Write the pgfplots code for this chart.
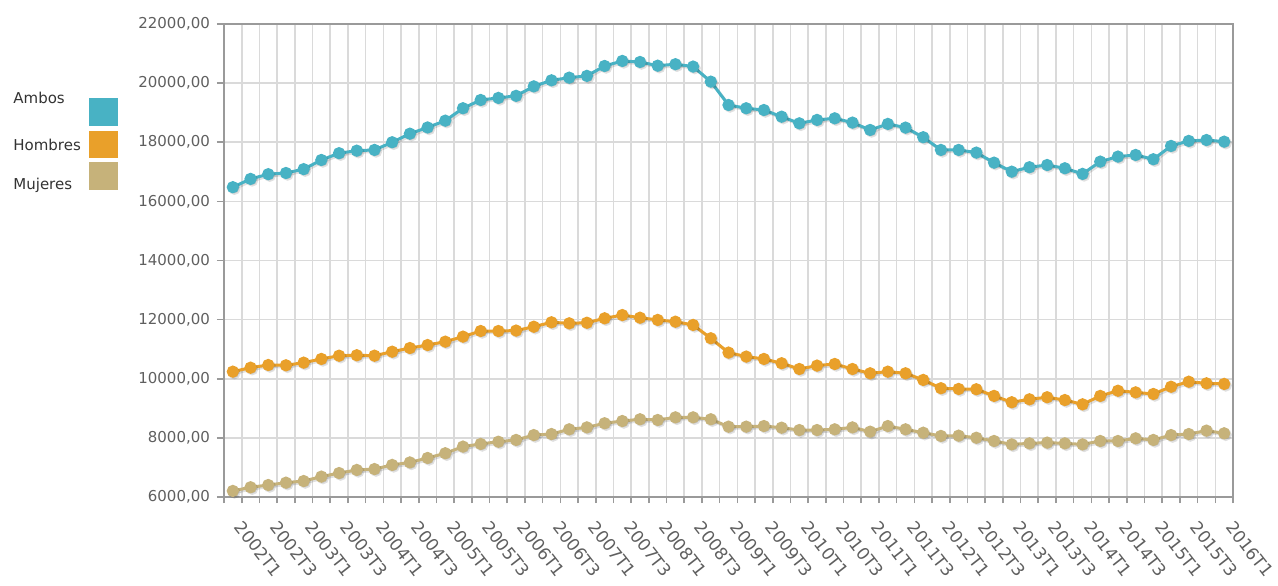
\documentclass[border=0pt]{standalone}
\usepackage{fontspec}
\setmainfont{DejaVu Sans}
\usepackage{pgfplots}
\pgfplotsset{compat=1.18}
\usepackage{pgfplotstable}

\definecolor{cAmbos}{HTML}{48B2C4}
\definecolor{cHombres}{HTML}{E9A02A}
\definecolor{cMujeres}{HTML}{C6B27A}
\definecolor{gridc}{HTML}{DADADA}
\definecolor{axisc}{HTML}{9A9A9A}
\definecolor{tickc}{HTML}{5F5F5F}

% quarter index, 0 = 2002T1 ... 56 = 2016T1
\pgfplotstableread{
q ambos hombres mujeres
0 16480 10240 6205
1 16760 10375 6330
2 16920 10465 6405
3 16960 10455 6485
4 17090 10545 6540
5 17400 10670 6690
6 17630 10780 6810
7 17715 10795 6915
8 17740 10780 6945
9 18000 10915 7085
10 18290 11040 7170
11 18500 11140 7320
12 18730 11255 7480
13 19150 11425 7705
14 19430 11615 7795
15 19500 11615 7870
16 19570 11630 7930
17 19890 11760 8095
18 20095 11910 8130
19 20185 11875 8290
20 20245 11895 8355
21 20580 12045 8495
22 20750 12155 8570
23 20715 12065 8630
24 20590 11990 8605
25 20640 11930 8695
26 20560 11820 8695
27 20050 11370 8630
28 19260 10885 8380
29 19150 10750 8380
30 19090 10670 8400
31 18865 10525 8345
32 18640 10330 8265
33 18755 10445 8265
34 18810 10500 8290
35 18665 10330 8355
36 18415 10185 8210
37 18620 10240 8400
38 18495 10185 8290
39 18170 9960 8175
40 17740 9680 8065
41 17740 9655 8075
42 17650 9645 8005
43 17310 9420 7895
44 17005 9205 7780
45 17155 9305 7815
46 17230 9375 7840
47 17120 9280 7815
48 16930 9135 7780
49 17345 9420 7895
50 17515 9595 7895
51 17570 9540 7985
52 17425 9485 7930
53 17875 9730 8095
54 18045 9900 8130
55 18075 9845 8245
56 18020 9825 8155
}\datatable

\begin{document}
\begin{tikzpicture}
\begin{axis}[
    scale only axis,
    width=504.5pt, height=236.5pt,
    xmin=-0.5, xmax=56.5,
    ymin=6000, ymax=22000,
    ytick={6000,8000,...,22000},
    scaled y ticks=false,
    xtick={0,2,...,56},
    xticklabels={2002T1,2002T3,2003T1,2003T3,2004T1,2004T3,2005T1,2005T3,
        2006T1,2006T3,2007T1,2007T3,2008T1,2008T3,2009T1,2009T3,2010T1,2010T3,
        2011T1,2011T3,2012T1,2012T3,2013T1,2013T3,2014T1,2014T3,2015T1,2015T3,2016T1},
    minor xtick={-0.5,0.5,...,56.5},
    tick pos=left,
    xmajorgrids=false, xminorgrids=true, ymajorgrids=true,
    grid style={draw=gridc, line width=0.8pt},
    minor grid style={draw=gridc, line width=0.8pt},
    axis line style={draw=axisc, line width=1.3pt},
    tick align=outside,
    x tick style={draw=none},
    minor x tick style={draw=axisc, line width=0.8pt},
    minor tick length=3pt,
    y tick style={draw=axisc, line width=0.8pt},
    major tick length=3.5pt,
    yticklabel style={font=\fontsize{7.5}{9}\selectfont, text=tickc},
    xticklabel style={font=\fontsize{8.5}{10}\selectfont, text=tickc,
        xshift=6pt, yshift=-3pt, rotate=-52, anchor=north west},
    shadow/.style={black, opacity=0.12, line width=1.5pt, mark=*, mark size=2.3pt,
        xshift=0.8pt, yshift=-0.8pt, forget plot},
    /pgf/number format/assume math mode=true,
    /pgf/number format/.cd, fixed, fixed zerofill, precision=2,
        use comma, 1000 sep={},
]
% soft drop shadows under the series
\addplot [shadow] table [x=q, y=ambos] {\datatable};
\addplot [shadow] table [x=q, y=hombres] {\datatable};
\addplot [shadow] table [x=q, y=mujeres] {\datatable};

\addplot [cAmbos, line width=1.5pt, mark=*, mark size=2.3pt] table [x=q, y=ambos] {\datatable};
\addplot [cHombres, line width=1.5pt, mark=*, mark size=2.3pt] table [x=q, y=hombres] {\datatable};
\addplot [cMujeres, line width=1.5pt, mark=*, mark size=2.3pt] table [x=q, y=mujeres] {\datatable};
\end{axis}

% legend at the left of the plot
\fill [cAmbos]   (-67.5pt,185.5pt) rectangle (-53pt,199.5pt);
\fill [cHombres] (-67.5pt,169.5pt) rectangle (-53pt,183pt);
\fill [cMujeres] (-67.5pt,153.5pt) rectangle (-53pt,167.5pt);
\begin{scope}[every node/.style={anchor=west, inner sep=0pt, text=black!80,
        font=\fontsize{7.5}{9}\selectfont}]
\node at (-105.5pt,199.75pt) {Ambos};
\node at (-105.5pt,176pt) {Hombres};
\node at (-105.5pt,156pt) {Mujeres};
\end{scope}

\pgfresetboundingbox
\path (-112pt,-44pt) rectangle (527pt,248.5pt);
\end{tikzpicture}
\end{document}
